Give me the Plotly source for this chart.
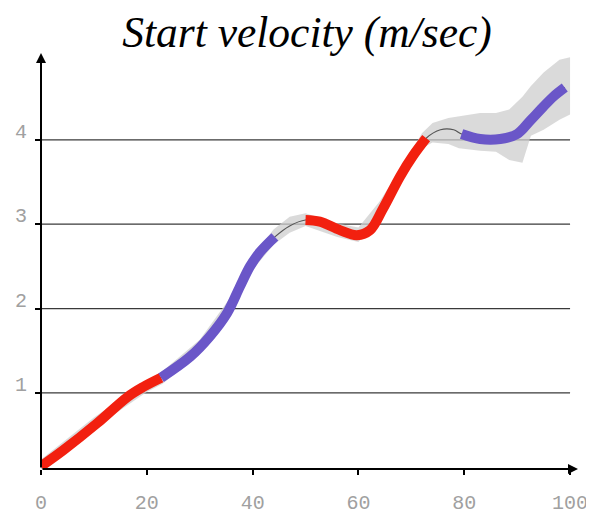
import plotly.graph_objects as go

# ---- data ----
curve_x = [0, 4.2, 10.6, 16.3, 19.3, 22.7, 28.2, 31.9, 35.2, 37.6, 39.5, 41.4, 44.2,
           47.0, 50.0, 52.7, 56.5, 59.7, 62.2, 64.6, 67.9, 70.3, 72.8,
           75.5, 78.0, 79.5, 83.0, 86.8, 90.0, 92.5, 94.9, 96.8, 99.0]
curve_y = [0.13, 0.32, 0.64, 0.95, 1.07, 1.18, 1.43, 1.67, 1.95, 2.26, 2.50, 2.67, 2.85,
           2.98, 3.05, 3.03, 2.93, 2.87, 2.93, 3.18, 3.57, 3.81, 4.02,
           4.12, 4.12, 4.07, 4.01, 4.01, 4.07, 4.23, 4.39, 4.51, 4.62]

# coloured segments: (start x, end x, colour)
seg_start = [0, 22.7, 50.0, 79.5]
seg_end = [22.7, 44.2, 72.8, 99.0]
seg_color = ["#f2200f", "#6a56c8", "#f2200f", "#6a56c8"]

band_x = [0, 10, 20, 23, 30, 36, 40, 44, 47, 50, 56, 60, 64, 68, 72, 74, 77, 79,
          83, 86, 88.5, 91, 92.6, 95, 98, 100]
band_lower = [0.08, 0.58, 1.01, 1.11, 1.48, 1.99, 2.46, 2.76, 2.90, 2.98, 2.85, 2.79,
              3.07, 3.49, 3.90, 3.97, 3.95, 3.90, 3.87, 3.86, 3.76, 3.73, 4.05, 4.12, 4.24, 4.30]
band_upper = [0.21, 0.71, 1.14, 1.26, 1.63, 2.15, 2.63, 2.94, 3.09, 3.13, 3.01, 2.96,
              3.27, 3.66, 4.08, 4.20, 4.26, 4.28, 4.32, 4.32, 4.36, 4.51, 4.64, 4.80, 4.95, 4.98]

x_ticks = [0, 20, 40, 60, 80, 100]
y_ticks = [1, 2, 3, 4]
title_text = "Start velocity (m/sec)"

x_min, x_max = 0, 101.5
y_min, y_max = 0.098, 5.03

fig = go.Figure()

# confidence band
fig.add_trace(go.Scatter(x=band_x, y=band_lower, mode="lines", line=dict(width=0),
                         hoverinfo="skip", showlegend=False))
fig.add_trace(go.Scatter(x=band_x, y=band_upper, mode="lines", line=dict(width=0),
                         fill="tonexty", fillcolor="rgba(205,205,205,0.75)",
                         hoverinfo="skip", showlegend=False))

# thin central curve (visible in the gaps)
fig.add_trace(go.Scatter(x=curve_x, y=curve_y, mode="lines",
                         line=dict(color="#555555", width=1.2, shape="spline", smoothing=1),
                         hoverinfo="skip", showlegend=False))

# coloured thick segments
for s, e, c in zip(seg_start, seg_end, seg_color):
    xs = [x for x in curve_x if s <= x <= e]
    ys = [y for x, y in zip(curve_x, curve_y) if s <= x <= e]
    fig.add_trace(go.Scatter(x=xs, y=ys, mode="lines",
                             line=dict(color=c, width=10, shape="spline", smoothing=1),
                             showlegend=False))

# horizontal grid lines
shapes = []
for yv in y_ticks:
    shapes.append(dict(type="line", xref="x", yref="y", x0=0, x1=100, y0=yv, y1=yv,
                       line=dict(color="#3a3a3a", width=1.2), layer="below"))

# axis arrows
annotations = [
    dict(x=x_max, y=y_min, ax=0, ay=y_min, xref="x", yref="y", axref="x", ayref="y",
         showarrow=True, arrowhead=2, arrowsize=1, arrowwidth=2, arrowcolor="black", text=""),
    dict(x=0, y=y_max, ax=0, ay=y_min, xref="x", yref="y", axref="x", ayref="y",
         showarrow=True, arrowhead=2, arrowsize=1, arrowwidth=2, arrowcolor="black", text=""),
]

fig.update_layout(
    width=586, height=508,
    margin=dict(l=33, r=16, t=45, b=47, autoexpand=False),
    paper_bgcolor="white", plot_bgcolor="white",
    title=dict(text=title_text, x=0.5102, xanchor="center", y=0.953, yanchor="middle",
               yref="container", automargin=False,
               font=dict(family="Liberation Serif", size=43.5, color="black", style="italic")),
    shapes=shapes, annotations=annotations,
    xaxis=dict(range=[x_min, x_max], tickvals=x_ticks, ticktext=[str(v) for v in x_ticks],
               showgrid=False, zeroline=False, showline=False, automargin=False,
               ticks="outside", ticklen=5, tickwidth=1.5, tickcolor="black",
               ticklabelstandoff=10,
               tickfont=dict(family="Liberation Mono", size=20, color="#a0a0a0")),
    yaxis=dict(range=[y_min, y_max], tickvals=y_ticks, ticktext=[str(v) for v in y_ticks],
               showgrid=False, zeroline=False, showline=False, automargin=False,
               ticks="outside", ticklen=5, tickwidth=1.5, tickcolor="black",
               ticklabelstandoff=4, ticklabelshift=-9,
               tickfont=dict(family="Liberation Mono", size=20, color="#a0a0a0")),
)

fig.write_html("out.html")
